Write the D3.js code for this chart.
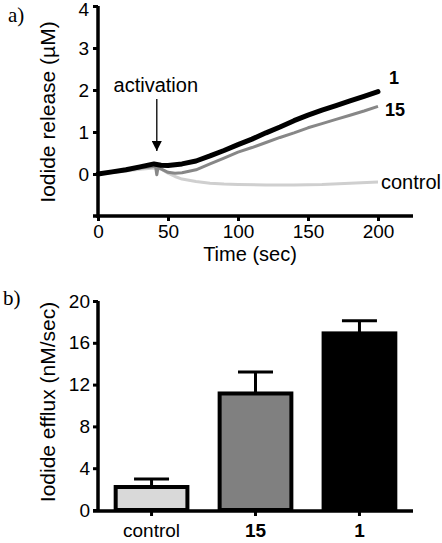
<!DOCTYPE html>
<html>
<head>
<meta charset="utf-8">
<script src="https://cdn.jsdelivr.net/npm/d3@7"></script>
<style>
  body { margin: 0; background: #fff; }
  svg { display: block; }
  text { font-family: "Liberation Sans", Arial, sans-serif; fill: #000; }
</style>
</head>
<body>
<svg id="chart" width="442" height="543"></svg>
<script>
// ---------- Data: panel a (time course) ----------
const timeTicks = [0, 50, 100, 150, 200];
const releaseTicks = [0, 1, 2, 3, 4];

const series1Time  = [0, 10, 20, 30, 40, 45, 50, 60, 70, 80, 90, 100, 110, 120, 130, 140, 150, 160, 170, 180, 190, 200];
const series1Value = [0, 0.05, 0.1, 0.17, 0.24, 0.21, 0.2, 0.24, 0.31, 0.43, 0.56, 0.7, 0.83, 0.98, 1.12, 1.27, 1.4, 1.52, 1.63, 1.74, 1.85, 1.96];

const series15Time  = [0, 10, 20, 30, 40, 41, 42, 43, 45, 50, 55, 60, 70, 80, 90, 100, 110, 120, 130, 140, 150, 160, 170, 180, 190, 200];
const series15Value = [0, 0.04, 0.09, 0.14, 0.18, 0.2, -0.02, 0.17, 0.12, 0.04, 0.02, 0.03, 0.1, 0.24, 0.38, 0.52, 0.63, 0.75, 0.87, 0.98, 1.1, 1.2, 1.3, 1.4, 1.5, 1.61];

const controlTime  = [0, 10, 20, 30, 40, 45, 50, 55, 60, 70, 80, 90, 100, 120, 140, 160, 180, 200];
const controlValue = [0, 0.03, 0.07, 0.11, 0.14, 0.12, 0.02, -0.06, -0.12, -0.18, -0.22, -0.24, -0.25, -0.26, -0.26, -0.25, -0.22, -0.19];

const activationTime = 42;

// ---------- Data: panel b (bars) ----------
const barCategories = ["control", "15", "1"];
const barValues = [2.2, 11.15, 16.9];
const barErrors = [0.77, 2.05, 1.2];
const effluxTicks = [0, 4, 8, 12, 16, 20];

// ---------- Drawing ----------
const svg = d3.select("#chart");

// Panel a
const xA = d3.scaleLinear().domain([0, 225]).range([98, 413]);
const yA = d3.scaleLinear().domain([-1, 4]).range([216, 6]);

const axA_x = svg.append("g").attr("transform", "translate(0,216)")
  .call(d3.axisBottom(xA).tickValues(timeTicks).tickFormat(d3.format("d")).tickSize(5).tickSizeOuter(0).tickPadding(4));
const axA_y = svg.append("g").attr("transform", "translate(98,0)")
  .call(d3.axisLeft(yA).tickValues(releaseTicks).tickFormat(d3.format("d")).tickSize(5).tickSizeOuter(0).tickPadding(4));

function styleAxis(g) {
  g.select(".domain").attr("stroke", "#000").attr("stroke-width", 3.5);
  g.selectAll(".tick line").attr("stroke", "#000").attr("stroke-width", 3);
  g.selectAll(".tick text").style("font-size", "19px").attr("fill", "#000");
}
styleAxis(axA_x); styleAxis(axA_y);
axA_x.select(".domain").attr("d", "M93,0H413");
axA_y.select(".domain").attr("d", "M0,6V218");
// top label sits slightly low so it is not clipped at the edge
axA_y.selectAll(".tick text").filter(d => d === 4).attr("dy", "0.5em");

const lineA = d3.line().x(d => xA(d[0])).y(d => yA(d[1]));
const zipA = (t, v) => t.map((tt, i) => [tt, v[i]]);

svg.append("path").datum(zipA(controlTime, controlValue))
  .attr("d", lineA).attr("fill", "none").attr("stroke", "#cfcfcf").attr("stroke-width", 3).attr("stroke-linejoin", "round");
svg.append("path").datum(zipA(series15Time, series15Value))
  .attr("d", lineA).attr("fill", "none").attr("stroke", "#878787").attr("stroke-width", 3).attr("stroke-linejoin", "round");
svg.append("path").datum(zipA(series1Time, series1Value))
  .attr("d", lineA).attr("fill", "none").attr("stroke", "#000").attr("stroke-width", 5).attr("stroke-linejoin", "round").attr("stroke-linecap", "round");

// series labels
svg.append("text").attr("x", xA(200) + 11).attr("y", yA(series1Value[series1Value.length - 1]) - 8)
  .style("font-size", "18px").style("font-weight", "bold").text("1");
svg.append("text").attr("x", xA(200) + 7).attr("y", yA(series15Value[series15Value.length - 1]) + 10)
  .style("font-size", "18px").style("font-weight", "bold").text("15");
svg.append("text").attr("x", xA(200) + 3).attr("y", yA(controlValue[controlValue.length - 1]) + 7)
  .style("font-size", "20px").text("control");

// activation annotation
svg.append("defs").append("marker").attr("id", "arr").attr("viewBox", "0 0 10 10")
  .attr("refX", 10).attr("refY", 5).attr("markerWidth", 10).attr("markerHeight", 10)
  .attr("markerUnits", "userSpaceOnUse").attr("orient", "auto")
  .append("path").attr("d", "M0,0L10,5L0,10Z").attr("fill", "#000");
svg.append("line").attr("x1", xA(activationTime)).attr("x2", xA(activationTime))
  .attr("y1", 99).attr("y2", 151).attr("stroke", "#000").attr("stroke-width", 1.3).attr("marker-end", "url(#arr)");
svg.append("text").attr("x", xA(activationTime) - 1).attr("y", 92).attr("text-anchor", "middle")
  .style("font-size", "20px").text("activation");

// axis titles panel a
svg.append("text").attr("x", 250).attr("y", 261).attr("text-anchor", "middle").style("font-size", "20px").text("Time (sec)");
svg.append("text").attr("transform", "translate(55,112) rotate(-90)").attr("text-anchor", "middle")
  .style("font-size", "21px").text("Iodide release (µM)");
svg.append("text").attr("x", 8).attr("y", 22).style("font-family", "'Liberation Serif', 'Times New Roman', serif")
  .style("font-size", "21px").text("a)");

// Panel b
const xB = d3.scaleBand().domain(barCategories).range([98, 413]).paddingInner(0.31).paddingOuter(0.17);
const yB = d3.scaleLinear().domain([0, 20]).range([510, 301]);

svg.selectAll("rect.bar").data(barCategories).enter().append("rect")
  .attr("class", "bar")
  .attr("x", d => xB(d))
  .attr("width", xB.bandwidth())
  .attr("y", (d, i) => yB(barValues[i]))
  .attr("height", (d, i) => yB(0) - yB(barValues[i]))
  .attr("fill", (d, i) => ["#d9d9d9", "#808080", "#000000"][i])
  .attr("stroke", "#000").attr("stroke-width", 4);

// error bars
barCategories.forEach((c, i) => {
  const cx = xB(c) + xB.bandwidth() / 2;
  const top = yB(barValues[i] + barErrors[i]);
  svg.append("line").attr("x1", cx).attr("x2", cx).attr("y1", yB(barValues[i])).attr("y2", top)
    .attr("stroke", "#000").attr("stroke-width", 3);
  svg.append("line").attr("x1", cx - 17.5).attr("x2", cx + 17.5).attr("y1", top).attr("y2", top)
    .attr("stroke", "#000").attr("stroke-width", 3);
});

const axB_x = svg.append("g").attr("transform", "translate(0,511)")
  .call(d3.axisBottom(xB).tickSize(5).tickSizeOuter(0).tickPadding(8));
const axB_y = svg.append("g").attr("transform", "translate(98,0)")
  .call(d3.axisLeft(yB).tickValues(effluxTicks).tickFormat(d3.format("d")).tickSize(5).tickSizeOuter(0).tickPadding(3));
styleAxis(axB_x); styleAxis(axB_y);
axB_x.select(".domain").attr("d", "M93,0H413");
axB_y.select(".domain").attr("d", "M0,301V512");
axB_x.selectAll(".tick text").style("font-size", "19px")
  .style("font-weight", d => d === "control" ? "normal" : "bold");

svg.append("text").attr("transform", "translate(55,402) rotate(-90)").attr("text-anchor", "middle")
  .style("font-size", "21px").text("Iodide efflux (nM/sec)");
svg.append("text").attr("x", 3).attr("y", 305).style("font-family", "'Liberation Serif', 'Times New Roman', serif")
  .style("font-size", "21px").text("b)");
</script>
</body>
</html>
